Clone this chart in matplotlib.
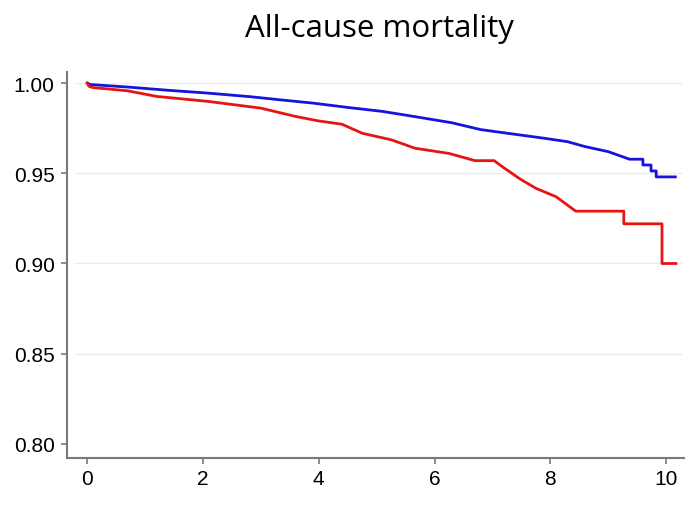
import matplotlib
matplotlib.use('Agg')
import matplotlib.pyplot as plt

title = 'All-cause mortality'
x_ticks = [0, 2, 4, 6, 8, 10]
y_ticks = [0.80, 0.85, 0.90, 0.95, 1.00]
y_labels = ['0.80', '0.85', '0.90', '0.95', '1.00']

# blue curve
blue_t = [0, 0.05, 0.7, 1.4, 2.1, 2.8, 3.4, 3.9, 4.5, 5.1, 5.7, 6.3, 6.8, 7.3, 7.9,
          8.3, 8.6, 9.0, 9.37, 9.6, 9.6, 9.74, 9.74, 9.83, 9.83, 10.16]
blue_s = [1.000, 0.9992, 0.9978, 0.9960, 0.9944, 0.9925, 0.9905, 0.9889, 0.9865,
          0.9843, 0.9812, 0.9780, 0.9742, 0.9720, 0.9694, 0.9675, 0.9648, 0.9620,
          0.9578, 0.9578, 0.9546, 0.9546, 0.9513, 0.9513, 0.9480, 0.9480]

# red curve
red_t = [0, 0.03, 0.1, 0.7, 1.2, 2.1, 3.0, 3.6, 4.0, 4.4, 4.75, 5.26, 5.66, 6.25,
         6.7, 7.03, 7.2, 7.47, 7.75, 8.1, 8.44, 9.27, 9.27, 9.93, 9.93, 10.17]
red_s = [1.000, 0.9982, 0.9975, 0.9957, 0.9926, 0.9898, 0.9861, 0.9815, 0.9790,
         0.9772, 0.9722, 0.9685, 0.9639, 0.9610, 0.9570, 0.9570, 0.9530, 0.9470,
         0.9417, 0.9370, 0.9290, 0.9290, 0.9220, 0.9220, 0.9000, 0.9000]

fig = plt.figure(figsize=(6.93, 5.06), dpi=100)
ax = fig.add_axes([0.0962, 0.0929, 0.8908, 0.7634])

for yv in y_ticks[1:]:
    ax.axhline(yv, xmin=0.013, xmax=0.995, color='#e6eef0', lw=1.0, zorder=1)

ax.plot(blue_t, blue_s, color='#1414dc', lw=2.0, zorder=3)
ax.plot(red_t, red_s, color='#e61414', lw=2.0, zorder=3)

ax.set_xlim(-0.356, 10.31)
ax.set_ylim(0.7922, 1.0063)
ax.set_xticks(x_ticks)
ax.set_yticks(y_ticks)
ax.set_yticklabels(y_labels)

for side in ['top', 'right']:
    ax.spines[side].set_visible(False)
for side in ['left', 'bottom']:
    ax.spines[side].set_color('#7a7a7a')
    ax.spines[side].set_linewidth(1.5)
ax.tick_params(axis='both', direction='out', length=4.3, width=1.2, color='#7a7a7a',
               labelsize=15)
ax.tick_params(axis='y', pad=4.3)
ax.tick_params(axis='x', pad=3.5)
for lab in ax.get_xticklabels() + ax.get_yticklabels():
    lab.set_family('Liberation Sans')

fig.text(0.548, 0.927, title, ha='center', va='baseline', fontsize=22.5, family='Open Sans')

fig.savefig('out.png', dpi=100)
